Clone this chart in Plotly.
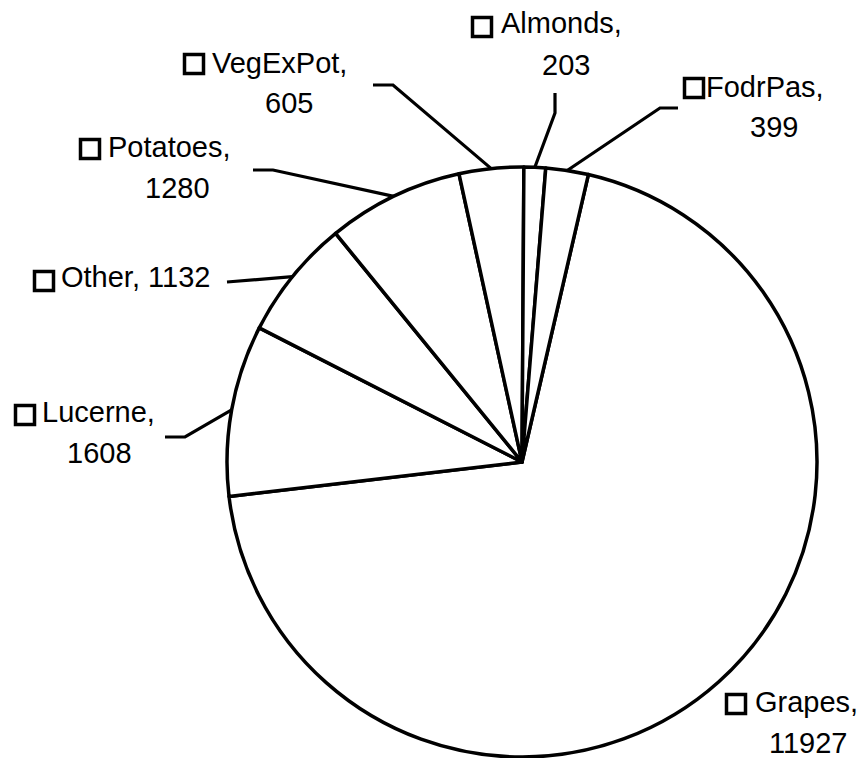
import math
import plotly.graph_objects as go

# ---- data ----
labels = ["Grapes", "Lucerne", "Other", "Potatoes", "VegExPot", "Almonds", "FodrPas"]
values = [11927, 1608, 1132, 1280, 605, 203, 399]

# ---- layout constants (pixels) ----
W, H = 864, 758
CX, CY, R = 522, 462, 295
ROTATION = 13  # degrees clockwise from 12 o'clock
FONT = dict(family="Liberation Sans, Arial, sans-serif", size=29, color="black")


def px(x):
    return x / W


def py(y):
    return 1 - y / H


# label placement: line1 left/mid, line2 centre/mid, key-square centre, leader elbow/end points
label_pos = {
    "Grapes":   dict(l1=(754, 702), l2=(808, 743), sq=(736, 704), leader=[]),
    "Lucerne":  dict(l1=(41, 412), l2=(99, 453), sq=(25, 415), leader=[(185, 437), (165, 437)]),
    "Other":    dict(l1=(60, 277), l2=None, sq=(44, 281), leader=[(227, 282)]),
    "Potatoes": dict(l1=(107, 147), l2=(177, 188), sq=(90, 149), leader=[(273, 170), (253, 170)]),
    "VegExPot": dict(l1=(211, 63), l2=(289, 103), sq=(194, 64), leader=[(393, 85), (373, 85)]),
    "Almonds":  dict(l1=(500, 23), l2=(566, 65), sq=(482, 27), leader=[(555, 113), (555, 93)]),
    "FodrPas":  dict(l1=(705, 87), l2=(774, 127), sq=(694, 88), leader=[(660, 108), (678, 108)]),
}

fig = go.Figure(
    go.Pie(
        labels=labels,
        values=values,
        sort=False,
        direction="clockwise",
        rotation=ROTATION,
        textinfo="none",
        marker=dict(colors=["white"] * len(labels), line=dict(color="black", width=3.5)),
        domain=dict(x=[px(CX - R), px(CX + R)], y=[py(CY + R), py(CY - R)]),
        showlegend=False,
    )
)

total = sum(values)
shapes = []
annotations = []
cum = 0.0
for lab, val in zip(labels, values):
    mid = ROTATION + (cum + val / 2) / total * 360
    cum += val
    a = math.radians(mid)
    sx, sy = CX + R * math.sin(a), CY - R * math.cos(a)
    pos = label_pos[lab]
    pts = [(sx, sy)] + pos["leader"]
    if len(pts) > 1:
        path = "M " + " L ".join(f"{px(x):.5f},{py(y):.5f}" for x, y in pts)
        shapes.append(dict(type="path", path=path, xref="paper", yref="paper",
                           line=dict(color="black", width=3.2)))
    # legend key square
    qx, qy = pos["sq"]
    s = 9.5
    shapes.append(dict(type="rect", xref="paper", yref="paper",
                       x0=px(qx - s), x1=px(qx + s), y0=py(qy + s), y1=py(qy - s),
                       line=dict(color="black", width=3.5), fillcolor="rgba(0,0,0,0)"))
    if pos["l2"] is None:
        t1 = f"{lab}, {val}"
    else:
        t1 = f"{lab},"
    x1, y1 = pos["l1"]
    annotations.append(dict(text=t1, x=px(x1), y=py(y1), xref="paper", yref="paper",
                            xanchor="left", yanchor="middle", showarrow=False,
                            font=FONT, borderpad=0))
    if pos["l2"] is not None:
        x2, y2 = pos["l2"]
        annotations.append(dict(text=str(val), x=px(x2), y=py(y2), xref="paper", yref="paper",
                                xanchor="center", yanchor="middle", showarrow=False,
                                font=FONT, borderpad=0))

fig.update_layout(
    width=W, height=H,
    margin=dict(l=0, r=0, t=0, b=0),
    paper_bgcolor="white", plot_bgcolor="white",
    shapes=shapes, annotations=annotations,
    showlegend=False,
)

fig.write_html("out.html", config={"displayModeBar": False},
               post_script="document.body.style.margin='0';")
